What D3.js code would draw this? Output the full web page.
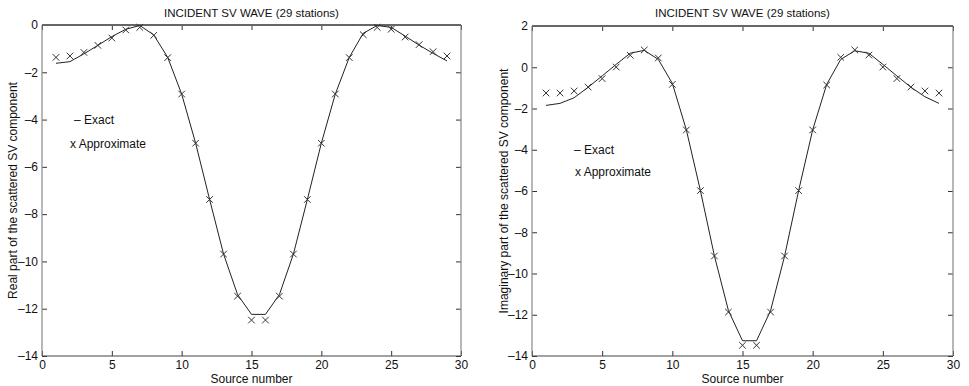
<!DOCTYPE html>
<html><head><meta charset="utf-8">
<script src="https://cdn.jsdelivr.net/npm/d3@7"></script>
<style>body{margin:0;background:#fff}svg{display:block}text{font-family:"Liberation Sans",Arial,sans-serif;fill:#111}</style>
</head><body><svg id="c" width="969" height="386"></svg>
<script>
const sources = d3.range(1, 30);
const realExact = [-1.62,-1.55,-1.22,-0.86,-0.49,-0.18,-0.02,-0.42,-1.37,-2.92,-5.0,-7.38,-9.69,-11.4,-12.24,-12.24,-11.4,-9.69,-7.38,-5.0,-2.92,-1.37,-0.35,-0.02,-0.1,-0.47,-0.85,-1.2,-1.52];
const realApprox = [-1.37,-1.31,-1.16,-0.86,-0.55,-0.21,-0.1,-0.44,-1.38,-2.92,-5.0,-7.38,-9.69,-11.47,-12.48,-12.48,-11.47,-9.69,-7.38,-5.0,-2.92,-1.38,-0.41,-0.1,-0.18,-0.51,-0.83,-1.13,-1.31];
const imagExact = [-1.85,-1.75,-1.48,-0.97,-0.42,0.14,0.68,0.82,0.38,-0.78,-3.04,-5.98,-9.15,-11.8,-13.26,-13.26,-11.8,-9.15,-5.98,-3.04,-0.83,0.38,0.8,0.68,0.14,-0.42,-0.97,-1.43,-1.75];
const imagApprox = [-1.25,-1.25,-1.15,-0.96,-0.55,0.01,0.58,0.84,0.45,-0.83,-3.04,-5.98,-9.15,-11.87,-13.48,-13.48,-11.87,-9.15,-5.98,-3.04,-0.86,0.48,0.84,0.59,0.01,-0.55,-0.96,-1.15,-1.25];
const xTicks = [0,5,10,15,20,25,30];
const realYTicks = [0,-2,-4,-6,-8,-10,-12,-14];
const imagYTicks = [2,0,-2,-4,-6,-8,-10,-12,-14];
const titleText = "INCIDENT SV WAVE (29 stations)";
const xLabel = "Source number";

const svg = d3.select("#c");
const fmt = d => (d < 0 ? "\u2013" + Math.abs(d) : String(d));

function panel(o){
  const g = svg.append("g");
  const bottom = 356;
  const x = d3.scaleLinear().domain([0,30]).range([o.left,o.right]);
  const y = d3.scaleLinear().domain(o.ydom).range([bottom,o.top]);
  const tl = 5;
  const style = a => {a.select(".domain").remove();a.selectAll("line").attr("stroke","#333");a.selectAll("text").attr("font-size",12).attr("font-family","Liberation Sans, Arial, sans-serif").attr("fill","#111");};
  const xa = g.append("g").attr("transform",`translate(0,${bottom})`)
    .call(d3.axisBottom(x).tickValues(xTicks).tickSizeInner(-tl).tickSizeOuter(0).tickPadding(4));
  const xt = g.append("g").attr("transform",`translate(0,${o.top})`)
    .call(d3.axisTop(x).tickValues(xTicks).tickSizeInner(-tl).tickSizeOuter(0).tickFormat(""));
  const ya = g.append("g").attr("transform",`translate(${o.left},0)`)
    .call(d3.axisLeft(y).tickValues(o.yticks).tickSizeInner(-tl).tickSizeOuter(0).tickPadding(4).tickFormat(fmt));
  const yr = g.append("g").attr("transform",`translate(${o.right},0)`)
    .call(d3.axisRight(y).tickValues(o.yticks).tickSizeInner(-tl).tickSizeOuter(0).tickFormat(""));
  [xa,xt,ya,yr].forEach(style);
  // frame
  g.append("line").attr("x1",o.left).attr("x2",o.left).attr("y1",o.top).attr("y2",bottom).attr("stroke","#888").attr("stroke-width",1.2);
  g.append("line").attr("x1",o.right).attr("x2",o.right).attr("y1",o.top).attr("y2",bottom).attr("stroke","#888").attr("stroke-width",1.2);
  g.append("line").attr("x1",o.left).attr("x2",o.right).attr("y1",bottom).attr("y2",bottom).attr("stroke","#444").attr("stroke-width",1.2);
  g.append("line").attr("x1",o.left).attr("x2",o.right).attr("y1",o.top).attr("y2",o.top).attr("stroke","#666").attr("stroke-width",2);
  // exact line
  g.append("path").datum(sources.map((s,i)=>[s,o.exact[i]]))
    .attr("d", d3.line().x(d=>x(d[0])).y(d=>y(d[1])).curve(d3.curveLinear))
    .attr("fill","none").attr("stroke","#222").attr("stroke-width",1);
  // approx markers
  const m = 3.3;
  g.append("g").selectAll("path").data(sources.map((s,i)=>[s,o.approx[i]])).join("path")
    .attr("d",d=>{const cx=x(d[0]),cy=y(d[1]);return `M${cx-m},${cy-m}L${cx+m},${cy+m}M${cx-m},${cy+m}L${cx+m},${cy-m}`;})
    .attr("stroke","#333").attr("stroke-width",1).attr("fill","none");
  // texts
  g.append("text").attr("x",(o.left+o.right)/2).attr("y",17).attr("text-anchor","middle").attr("font-size",11.5).text(titleText);
  g.append("text").attr("x",(o.left+o.right)/2).attr("y",383).attr("text-anchor","middle").attr("font-size",12).text(xLabel);
  g.append("text").attr("transform",`translate(${o.ylabX},${(o.top+bottom)/2}) rotate(-90)`).attr("text-anchor","middle").attr("dy","0.35em").attr("font-size",12).text(o.ylabel);
  g.append("text").attr("x",o.legX).attr("y",o.legY1).attr("font-size",12).text("\u2013 Exact");
  g.append("text").attr("x",o.legX2).attr("y",o.legY2).attr("font-size",12).text("x Approximate");
}

panel({left:42,right:461,top:25,ydom:[-14,0],yticks:realYTicks,exact:realExact,approx:realApprox,
  ylabel:"Real part of the scattered SV component",ylabX:13,legX:74,legX2:70,legY1:124,legY2:148});
panel({left:532,right:953,top:26,ydom:[-14,2],yticks:imagYTicks,exact:imagExact,approx:imagApprox,
  ylabel:"Imaginary part of the scattered SV component",ylabX:504,legX:574,legX2:575,legY1:154,legY2:176});
</script></body></html>
